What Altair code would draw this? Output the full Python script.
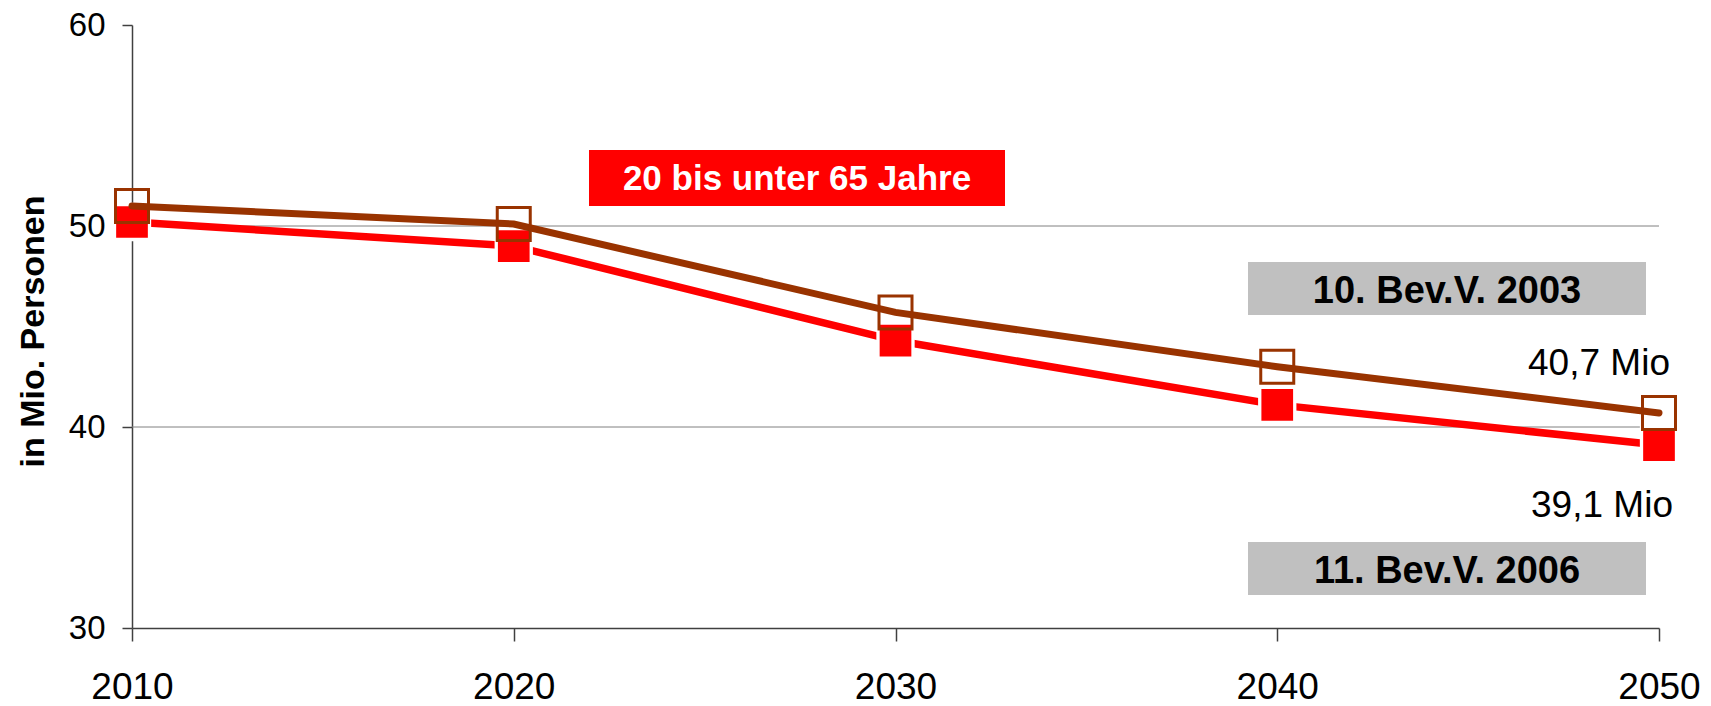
import altair as alt
import pandas as pd

# ---- data ----
years = [2010, 2020, 2030, 2040, 2050]
bev_2003 = [51.0, 50.1, 45.7, 43.0, 40.7]   # 10. Bev.V. 2003 (brown, open squares)
bev_2006 = [50.2, 49.0, 44.3, 41.1, 39.1]   # 11. Bev.V. 2006 (red, filled squares)
y_ticks = [30, 40, 50, 60]
grid_lines = [40, 50]
box_title = ["20 bis unter 65 Jahre"]
series_labels = ["10. Bev.V. 2003", "11. Bev.V. 2006"]
end_labels = ["40,7 Mio", "39,1 Mio"]
y_title = "in Mio. Personen"

FONT = "Liberation Sans"
W, H = 1527, 603
RED = "#FF0000"
BROWN = "#993300"
GRAY = "#C0C0C0"
AXIS = "#404040"

df_2003 = pd.DataFrame({"Jahr": years, "Wert": bev_2003})
df_2006 = pd.DataFrame({"Jahr": years, "Wert": bev_2006})
df_grid = pd.DataFrame({"Wert": grid_lines})

xs = alt.Scale(domain=[2010, 2050], nice=False, zero=False)
ys = alt.Scale(domain=[30, 60], nice=False, zero=False)

x_enc = alt.X(
    "Jahr:Q", scale=xs,
    axis=alt.Axis(values=years, format="d", title=None, grid=False,
                  tickSize=13, tickColor=AXIS, domainColor=AXIS, tickWidth=1.5, domainWidth=1.5,
                  labelFont=FONT, labelFontSize=37, labelColor="black",
                  labelBaseline="alphabetic", labelPadding=57,
                  labelFlush=False, labelOverlap=False),
)
y_enc = alt.Y(
    "Wert:Q", scale=ys,
    axis=alt.Axis(values=y_ticks, title=y_title, grid=False,
                  tickSize=10, tickColor=AXIS, domainColor=AXIS, tickWidth=1.5, domainWidth=1.5,
                  labelFont=FONT, labelFontSize=33, labelColor="black", labelPadding=17,
                  titleFont=FONT, titleFontSize=34, titleFontWeight="bold", titleColor="black",
                  titleAngle=270, titleAlign="center", titleBaseline="middle",
                  titleX=-99, titleY=306),
)

grid = alt.Chart(df_grid).mark_rule(color="#808080", strokeWidth=1).encode(
    y=y_enc, x=alt.value(0), x2=alt.value(W)
)

red_line = alt.Chart(df_2006).mark_line(color=RED, strokeWidth=7.5).encode(x=x_enc, y=y_enc)
red_pts = alt.Chart(df_2006).mark_point(
    shape="square", filled=True, fill=RED, stroke="white", strokeWidth=3.3,
    size=1225, opacity=1
).encode(x=x_enc, y=y_enc)

brown_line = alt.Chart(df_2003).mark_line(color=BROWN, strokeWidth=7, strokeCap="round").encode(x=x_enc, y=y_enc)
brown_pts = alt.Chart(df_2003).mark_point(
    shape="square", filled=False, color=BROWN, strokeWidth=3, size=1089, opacity=1
).encode(x=x_enc, y=y_enc)

# ---- annotation boxes and labels ----
def box(text, x1, x2, y1, y2, fill, tx, ty, tcolor, size):
    d = pd.DataFrame({"t": [text]})
    r = alt.Chart(d).mark_rect(color=fill).encode(
        x=alt.value(x1), x2=alt.value(x2), y=alt.value(y1), y2=alt.value(y2))
    t = alt.Chart(d).mark_text(font=FONT, fontSize=size, fontWeight="bold", color=tcolor,
                               align="center", baseline="alphabetic").encode(
        x=alt.value(tx), y=alt.value(ty), text="t:N")
    return [r, t]

def label(text, tx, ty):
    d = pd.DataFrame({"t": [text]})
    return alt.Chart(d).mark_text(font=FONT, fontSize=37, color="black",
                                  align="center", baseline="alphabetic").encode(
        x=alt.value(tx), y=alt.value(ty), text="t:N")

annots = []
annots += box(box_title[0], 457, 873, 125, 181, RED, 665, 165, "white", 35)
annots += box(series_labels[0], 1116, 1514, 237, 290, GRAY, 1315, 278, "black", 38)
annots += box(series_labels[1], 1116, 1514, 517, 570, GRAY, 1315, 558, "black", 38)
annots.append(label(end_labels[0], 1467, 350))
annots.append(label(end_labels[1], 1470, 492))

chart = alt.layer(
    grid, red_line, red_pts, brown_line, brown_pts, *annots
).properties(
    width=W, height=H,
    padding={"left": 124, "top": 17, "right": 44, "bottom": 77},
    autosize=alt.AutoSizeParams(type="none"),
    background="white",
).configure_view(stroke=None)

chart.save("out.html", embed_options={"renderer": "svg", "actions": False})
